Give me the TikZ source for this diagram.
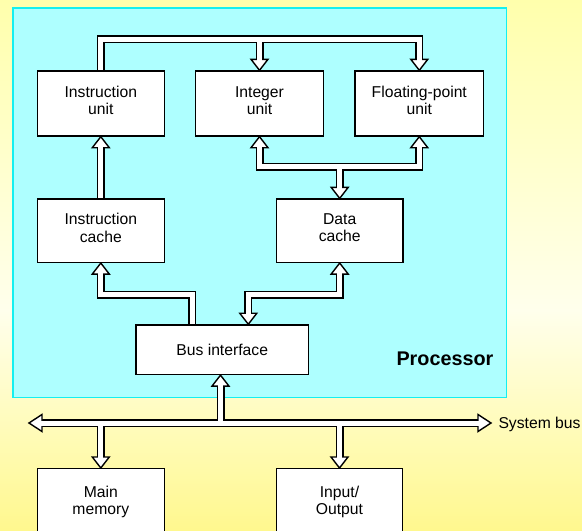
\documentclass[tikz,border=0pt]{standalone}
\usepackage{fontspec}
\setmainfont{Liberation Sans}
\usetikzlibrary{calc}

% drawing order: backdrop, bus outlines, arrow heads, bus interiors, boxes
\pgfdeclarelayer{backdrop}
\pgfdeclarelayer{busback}
\pgfdeclarelayer{busmid}
\pgfdeclarelayer{busfront}
\pgfsetlayers{backdrop,busback,busmid,busfront,main}

\definecolor{ytop}{RGB}{255,255,172}
\definecolor{ylight}{RGB}{255,255,236}
\definecolor{ybot}{RGB}{255,248,142}
\definecolor{procfill}{RGB}{174,255,255}
\definecolor{procedge}{RGB}{20,240,240}

% extra depth on the last line so two-line labels sit a little high
\newcommand\dpfix{\rule[-6pt]{0pt}{0pt}}

\tikzset{
  unitbox/.style={draw=black, fill=white, line width=1.4pt, inner sep=0pt,
    align=center, font=\fontsize{15.7}{17.6}\selectfont},
  busout/.style={draw=black, line width=8pt, line join=miter, line cap=butt},
  busin/.style={draw=white, line width=5pt, line join=miter, line cap=butt,
    shorten <=-1.5pt, shorten >=-1.5pt},
  pics/head/.style={code={
    \draw[black, fill=white, line width=1.4pt, line join=miter]
      (-8.5pt,-#1pt) -- (8.5pt,-#1pt) -- (0pt,0pt) -- cycle;}},
  pics/head/.default=11,
}

% a hollow bus: black outline below, white interior above
\newcommand\bus[1]{%
  \begin{pgfonlayer}{busback}\draw[busout] #1;\end{pgfonlayer}%
  \begin{pgfonlayer}{busfront}\draw[busin] #1;\end{pgfonlayer}}
% hollow arrow head: rotation, tip, length
\newcommand\tip[3]{%
  \begin{pgfonlayer}{busmid}\pic[rotate=#1] at (#2) {head=#3};\end{pgfonlayer}}

\begin{document}
\begin{tikzpicture}[x=1pt, y=-1pt]
\useasboundingbox (0,0) rectangle (582,531);

\begin{pgfonlayer}{backdrop}
  \shade[top color=ytop, bottom color=ylight] (0,0) rectangle (582,311);
  \shade[top color=ylight, bottom color=ybot] (0,310) rectangle (582,531);
  \draw[procedge, fill=procfill, line width=1.2pt] (13,8) rectangle (506.7,397.7);
\end{pgfonlayer}

% units
\node[unitbox, minimum width=127pt,   minimum height=65pt]   (iu)   at (100.8,103.5) {Instruction\\unit\dpfix};
\node[unitbox, minimum width=128.4pt, minimum height=65pt]   (intu) at (259.5,103.5) {Integer\\unit\dpfix};
\node[unitbox, minimum width=128.7pt, minimum height=65pt]   (fpu)  at (419.3,103.5) {Floating-point\\unit\dpfix};
\node[unitbox, minimum width=127pt,   minimum height=63.3pt] (ic)   at (100.8,230.7) {Instruction\\cache\dpfix};
\node[unitbox, minimum width=126.7pt, minimum height=63.3pt] (dc)   at (339.7,230.7) {Data\\cache\dpfix};
\node[unitbox, minimum width=172.3pt, minimum height=49.5pt] (bi)   at (222.2,349.7) {Bus interface};
\node[unitbox, minimum width=127pt,   minimum height=66.6pt] (mm)   at (100.8,502)   {Main\\memory};
\node[unitbox, minimum width=126.4pt, minimum height=66.6pt] (io)   at (339.5,502)   {Input/\\Output};

\node[font=\fontsize{19.8}{22}\selectfont\bfseries, anchor=base west, inner sep=0pt]
  (proc) at (396.3,365) {Processor};
\node[font=\fontsize{15.7}{17.6}\selectfont, anchor=base west, inner sep=0pt]
  (sysbus) at (498.3,428.3) {System bus};

% bus routing points
\coordinate (topbus) at (0,39);
\coordinate (midbus) at (0,166.7);
\coordinate (bl) at (192.3,294.5);
\coordinate (br) at (248.3,294.5);
\coordinate (sbL) at (29,423);
\coordinate (sbR) at (491,423);
\coordinate (bix) at (220.5,0);
\coordinate (brtip) at (bi.north -| br);
\coordinate (bltail) at (bi.north -| bl);
\coordinate (bitip) at (bi.south -| bix);

% instruction unit to integer and floating-point units
\bus{(iu.north) -- (iu.north |- topbus) -- (fpu.north |- topbus) -- ([yshift=11pt]fpu.north)}
\bus{(intu.north |- topbus) -- ([yshift=11pt]intu.north)}
\tip{180}{fpu.north}{11}
\tip{180}{intu.north}{11}

% instruction cache to instruction unit
\bus{(ic.north) -- ([yshift=-11pt]iu.south)}
\tip{0}{iu.south}{11}

% bus interface to instruction cache
\bus{(bltail) -- (bl) -- (bl -| ic.south) -- ([yshift=-11pt]ic.south)}
\tip{0}{ic.south}{11}

% bus interface <-> data cache
\bus{([yshift=11pt]brtip) -- (br) -- (br -| dc.south) -- ([yshift=-11pt]dc.south)}
\tip{180}{brtip}{11}
\tip{0}{dc.south}{11}

% integer / floating-point units <-> data cache
\bus{([yshift=-11pt]intu.south) -- (intu.south |- midbus) -- (fpu.south |- midbus) -- ([yshift=-11pt]fpu.south)}
\bus{(dc.north |- midbus) -- ([yshift=11pt]dc.north)}
\tip{0}{intu.south}{11}
\tip{0}{fpu.south}{11}
\tip{180}{dc.north}{11}

% system bus
\bus{([xshift=13pt]sbL) -- ([xshift=-13pt]sbR)}
\tip{90}{sbL}{13}
\tip{-90}{sbR}{13}
\bus{([yshift=-11pt]bitip) -- (bitip |- sbL)}
\tip{0}{bitip}{11}
\bus{(mm.north |- sbL) -- ([yshift=11pt]mm.north)}
\tip{180}{mm.north}{11}
\bus{(io.north |- sbL) -- ([yshift=11pt]io.north)}
\tip{180}{io.north}{11}
\end{tikzpicture}
\end{document}
